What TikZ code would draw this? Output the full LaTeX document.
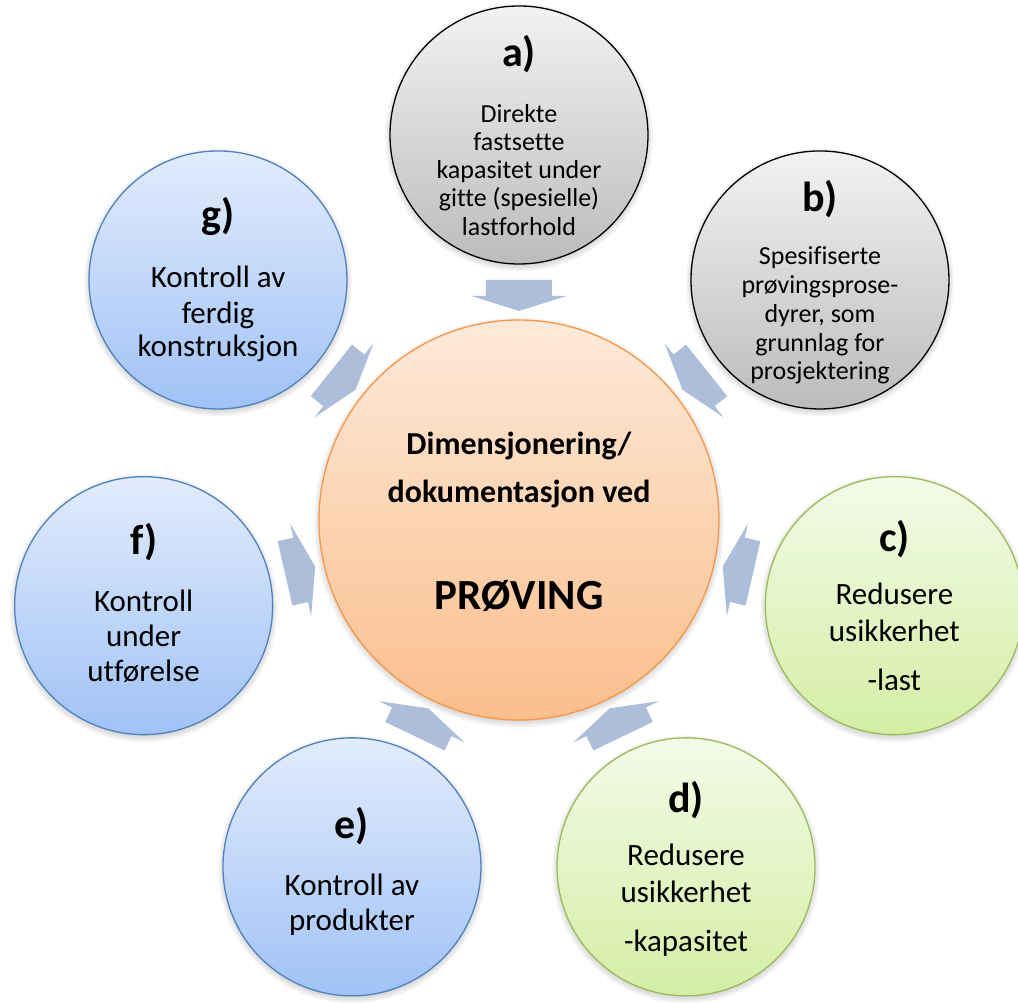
\documentclass[tikz,border=0pt]{standalone}
\usepackage{fontspec}
\setmainfont{Carlito}[Ligatures=NoCommon]
\usetikzlibrary{calc}

% fills and outlines
\definecolor{grayTop}{RGB}{242,242,242}
\definecolor{grayBot}{RGB}{188,188,188}
\definecolor{greenTop}{RGB}{243,251,232}
\definecolor{greenBot}{RGB}{212,238,165}
\definecolor{greenLine}{RGB}{155,187,89}
\definecolor{blueTop}{RGB}{226,236,252}
\definecolor{blueBot}{RGB}{160,194,246}
\definecolor{blueLine}{RGB}{79,129,189}
\definecolor{orangeTop}{RGB}{253,234,218}
\definecolor{orangeBot}{RGB}{250,190,140}
\definecolor{orangeLine}{RGB}{247,150,70}
\definecolor{arrowFill}{RGB}{173,190,219}

% soft shadow under a disc: #1 centre, #2 radius
\newcommand\discshadow[2]{%
  \foreach \k in {0,...,5}{%
    \fill[black,opacity=0.035,shift={(0,-2.5)}] #1 circle ({#2-3+\k*1.6});}}

% inward block arrow at polar angle #1
\newcommand\inarrow[1]{%
  \fill[arrowFill,shift={(#1:224)},rotate=#1]
    (16,33) -- (0,33) -- (0,47.5) -- (-15,0) -- (0,-47.5) -- (0,-33) -- (16,-33) -- cycle;}

\begin{document}
\begin{tikzpicture}[x=1pt,y=1pt,
  disc/.style={circle,minimum size=258pt,inner sep=0pt,line width=1.3pt},
  graydisc/.style={disc,draw=black,top color=grayTop,bottom color=grayBot},
  greendisc/.style={disc,draw=greenLine,top color=greenTop,bottom color=greenBot},
  bluedisc/.style={disc,draw=blueLine,top color=blueTop,bottom color=blueBot},
  hubdisc/.style={circle,minimum size=400pt,inner sep=0pt,line width=1.3pt,
    draw=orangeLine,top color=orangeTop,bottom color=orangeBot},
  lab/.style={font=\bfseries\fontsize{42}{48}\selectfont,anchor=base,inner sep=0pt},
  smalltxt/.style={font=\fontsize{26}{31}\selectfont,anchor=base,inner sep=0pt},
  bigtxt/.style={font=\fontsize{31}{37}\selectfont,anchor=base,inner sep=0pt},
  hubtxt/.style={font=\bfseries\fontsize{32}{38}\selectfont,anchor=base,inner sep=0pt},
  hubbig/.style={font=\bfseries\fontsize{43}{50}\selectfont,anchor=base,inner sep=0pt}]
\useasboundingbox (-519,-483) rectangle (499,520);

% shadows
\discshadow{(0,0)}{200}
\foreach \ang in {90,38.571,-12.857,-64.286,-115.714,-167.143,141.429}
  {\discshadow{(\ang:385)}{129}}

% discs
\node[hubdisc] (hub) at (0,0) {};
\node[graydisc] (ca) at (90:385) {};
\node[graydisc] (cb) at (38.571:385) {};
\node[greendisc] (cc) at (-12.857:385) {};
\node[greendisc] (cd) at (-64.286:385) {};
\node[bluedisc] (ce) at (-115.714:385) {};
\node[bluedisc] (cf) at (-167.143:385) {};
\node[bluedisc] (cg) at (141.429:385) {};

% arrows pointing into the hub
\foreach \ang in {90,38.571,-12.857,-64.286,-115.714,-167.143,141.429}
  {\inarrow{\ang}}

% hub text
\node[hubtxt] (h1) at ($(hub)+(0,65)$) {Dimensjonering/};
\node[hubtxt] (h2) at ($(hub)+(0,17)$) {dokumentasjon ved};
\node[hubbig] (h3) at ($(hub)+(0,-90)$) {PRØVING};

% a)
\node[lab] (la) at ($(ca)+(0,68)$) {a)};
\node[smalltxt] (a1) at ($(ca)+(0,12)$) {Direkte};
\node[smalltxt] (a2) at ($(ca)+(0,-16)$) {fastsette};
\node[smalltxt] (a3) at ($(ca)+(0,-44)$) {kapasitet under};
\node[smalltxt] (a4) at ($(ca)+(0,-72)$) {gitte (spesielle)};
\node[smalltxt] (a5) at ($(ca)+(0,-101)$) {lastforhold};

% b)
\node[lab] (lb) at ($(cb)+(0,68)$) {b)};
\node[smalltxt] (b1) at ($(cb)+(0,15)$) {Spesifiserte};
\node[smalltxt] (b2) at ($(cb)+(0,-14)$) {prøvingsprose-};
\node[smalltxt] (b3) at ($(cb)+(0,-43)$) {dyrer, som};
\node[smalltxt] (b4) at ($(cb)+(0,-72)$) {grunnlag for};
\node[smalltxt] (b5) at ($(cb)+(0,-100)$) {prosjektering};

% c)
\node[lab] (lc) at ($(cc)+(0,54)$) {c)};
\node[bigtxt] (c1) at ($(cc)+(0,1)$) {Redusere};
\node[bigtxt] (c2) at ($(cc)+(0,-36)$) {usikkerhet};
\node[bigtxt] (c3) at ($(cc)+(0,-85)$) {-last};

% d)
\node[lab] (ld) at ($(cd)+(0,54)$) {d)};
\node[bigtxt] (d1) at ($(cd)+(0,1)$) {Redusere};
\node[bigtxt] (d2) at ($(cd)+(0,-36)$) {usikkerhet};
\node[bigtxt] (d3) at ($(cd)+(0,-85)$) {-kapasitet};

% e)
\node[lab] (le) at ($(ce)+(0,28)$) {e)};
\node[bigtxt] (e1) at ($(ce)+(0,-29)$) {Kontroll av};
\node[bigtxt] (e2) at ($(ce)+(0,-64)$) {produkter};

% f)
\node[lab] (lf) at ($(cf)+(0,51)$) {f)};
\node[bigtxt] (f1) at ($(cf)+(0,-6)$) {Kontroll};
\node[bigtxt] (f2) at ($(cf)+(0,-41)$) {under};
\node[bigtxt] (f3) at ($(cf)+(0,-76)$) {utførelse};

% g)
\node[lab] (lg) at ($(cg)+(0,51)$) {g)};
\node[bigtxt] (g1) at ($(cg)+(0,-8)$) {Kontroll av};
\node[bigtxt] (g2) at ($(cg)+(0,-44)$) {ferdig};
\node[bigtxt] (g3) at ($(cg)+(0,-77)$) {konstruksjon};
\end{tikzpicture}
\end{document}
